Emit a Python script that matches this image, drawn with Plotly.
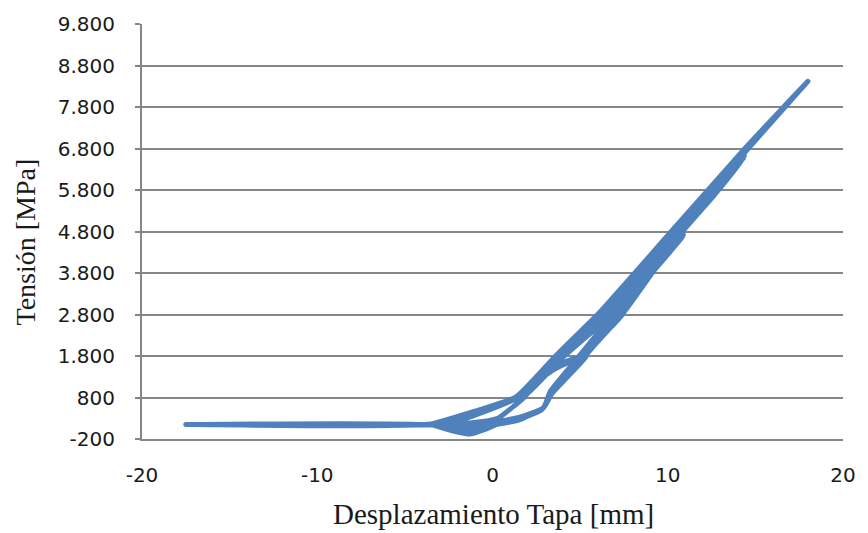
import plotly.graph_objects as go

# Desplazamiento de tapa [mm] y tensión [MPa] del ensayo cíclico, ciclo a ciclo
desplazamiento = [
    0.2,
    # ciclo 1
    -0.5, -1.3, -2.3, -3.4, -3.6,
    -3.5, -1.0, 1.3, 2.4, 3.6, 5.35,
    4.4, 3.4, 2.9, 1.6, 0.4,
    # ciclo 2
    -0.5, -1.2, -2.3, -3.4, -3.6,
    -3.5, -1.2, 0.3, 1.3, 1.8, 3.0, 4.4, 5.35,
    4.4, 3.4, 2.9, 1.4, 0.2,
    # ciclo 3
    -0.5, -1.3, -2.3, -3.4, -5.0,
    -3.5, -1.0, 1.3, 3.5, 5.6, 7.5,
    6.3, 5.2, 3.4, 2.8, 1.4, 0.2,
    # ciclo 4
    -0.5, -1.3, -2.3, -3.4, -5.0,
    -3.5, -1.2, 0.3, 1.3, 1.8, 3.6, 6.3, 7.5,
    6.9, 5.0, 3.4, 2.9, 1.6, 0.4,
    # ciclo 5
    -0.5, -1.2, -2.3, -3.4, -7.0,
    -3.5, -1.5, -0.5, 1.3, 2.0, 3.9, 6.6, 7.5,
    6.3, 5.2, 3.4, 2.9, 1.4, 0.2,
    # ciclo 6
    -0.5, -1.3, -2.3, -3.4, -7.0,
    -3.5, -1.0, 1.3, 3.6, 6.5, 9.6, 10.9,
    9.0, 7.3, 5.2, 3.4, 2.8, 1.4, 0.2,
    # ciclo 7
    -0.5, -1.3, -2.3, -3.4, -7.0,
    -3.5, -1.2, 0.3, 1.3, 1.8, 3.6, 6.2, 10.0, 10.9,
    9.5, 6.9, 4.95, 3.3, 2.9, 1.6, 0.4,
    # ciclo 8
    -0.5, -1.2, -2.3, -3.4, -10.0,
    -3.5, -1.5, -0.5, 1.3, 2.0, 4.1, 6.8, 10.5, 10.9,
    9.0, 7.3, 5.2, 3.4, 2.9, 1.4, 0.2,
    # ciclo 9
    -0.5, -1.3, -2.3, -3.4, -10.0,
    -3.5, -1.0, 1.3, 3.6, 6.1, 10.4, 13.6, 14.4,
    12.6, 10.8, 7.35, 5.22, 3.4, 2.8, 1.4, 0.2,
    # ciclo 10
    -0.5, -1.3, -2.3, -3.4, -10.0,
    -3.5, -1.2, 0.3, 1.3, 1.8, 3.6, 6.0, 10.3, 13.9, 14.4,
    12.5, 10.7, 7.1, 5.0, 3.4, 2.9, 1.6, 0.4,
    # ciclo 11
    -0.5, -1.2, -2.3, -3.4, -14.0,
    -3.5, -1.5, -0.5, 1.3, 2.0, 3.8, 6.3, 10.5, 14.4,
    12.6, 10.8, 7.35, 5.22, 3.4, 2.9, 1.4, 0.2,
    # ciclo 12
    -0.5, -1.3, -2.3, -3.4, -14.0,
    -3.5, -1.0, 1.3, 3.6, 6.0, 10.2, 14.4, 18.0,
    14.6, 10.8, 7.4, 5.25, 3.4, 2.9, 1.4, 0.2,
    # ciclo 13
    -0.5, -1.3, -2.3, -3.4, -17.5,
    -3.5, -1.0, 1.3, 3.6, 6.0, 10.2, 14.4, 18.0,
]
tension = [
    146,
    # ciclo 1
    20, -70, 0, 134, 145,
    155, 470, 800, 1150, 1500, 1800,
    1350, 900, 550, 330, 230,
    # ciclo 2
    170, 100, 60, 140, 150,
    150, 190, 300, 620, 800, 1400, 1700, 1800,
    1350, 900, 550, 240, 146,
    # ciclo 3
    20, -70, 0, 134, 140,
    160, 470, 800, 1600, 2350, 2850,
    2300, 1750, 900, 500, 260, 160,
    # ciclo 4
    90, 10, 40, 140, 150,
    150, 190, 300, 620, 800, 1750, 2650, 2850,
    2550, 1800, 950, 550, 330, 230,
    # ciclo 5
    170, 100, 60, 140, 150,
    150, 300, 450, 760, 900, 1800, 2700, 2850,
    2300, 1750, 900, 550, 240, 146,
    # ciclo 6
    20, -80, 0, 134, 140,
    160, 470, 800, 1750, 2800, 4300, 4720,
    3750, 2800, 1780, 900, 500, 260, 160,
    # ciclo 7
    90, 10, 40, 140, 150,
    150, 190, 300, 620, 800, 1800, 2800, 4550, 4720,
    4000, 2800, 1800, 950, 550, 330, 230,
    # ciclo 8
    170, 100, 60, 140, 150,
    150, 300, 450, 760, 900, 1800, 2800, 4600, 4720,
    3750, 2800, 1780, 900, 550, 240, 146,
    # ciclo 9
    20, -70, 0, 134, 140,
    160, 470, 800, 1800, 2800, 4800, 6300, 6600,
    5650, 4780, 2800, 1790, 900, 500, 260, 160,
    # ciclo 10
    90, 10, 40, 140, 150,
    150, 190, 300, 620, 800, 1800, 2800, 4800, 6450, 6600,
    5600, 4750, 2800, 1800, 950, 550, 330, 230,
    # ciclo 11
    170, 100, 60, 145, 155,
    150, 300, 450, 760, 900, 1800, 2800, 4800, 6600,
    5650, 4780, 2800, 1790, 900, 550, 240, 146,
    # ciclo 12
    20, -70, 0, 134, 140,
    160, 470, 800, 1800, 2800, 4800, 6800, 8420,
    6800, 4800, 2800, 1800, 900, 550, 240, 146,
    # ciclo 13
    20, -80, 0, 134, 150,
    160, 470, 800, 1800, 2800, 4800, 6800, 8420,
]

y_ticks = [-200, 800, 1800, 2800, 3800, 4800, 5800, 6800, 7800, 8800, 9800]
y_tick_text = ["-200", "800", "1.800", "2.800", "3.800", "4.800",
               "5.800", "6.800", "7.800", "8.800", "9.800"]
x_ticks = [-20, -10, 0, 10, 20]
x_tick_text = ["-20", "-10", "0", "10", "20"]

fig = go.Figure()
fig.add_trace(go.Scatter(
    x=desplazamiento, y=tension, mode="lines",
    line=dict(color="#4F81BD", width=5, shape="spline", smoothing=0.5),
    hoverinfo="skip", showlegend=False,
))

grey = "#868686"
serif = "Liberation Serif, Times New Roman, serif"
fig.update_layout(
    width=868, height=533,
    margin=dict(l=142, r=18, t=20, b=94),
    paper_bgcolor="white", plot_bgcolor="white",
    font=dict(family="DejaVu Sans, sans-serif", size=20, color="#1a1a1a"),
    annotations=[
        dict(text="Tensión [MPa]", textangle=-90, xref="paper", yref="paper",
             x=-0.166, y=0.475, xanchor="center", yanchor="middle",
             showarrow=False, font=dict(family=serif, size=28, color="#1a1a1a")),
        dict(text="Desplazamiento Tapa [mm]", xref="paper", yref="paper",
             x=0.501, y=-0.181, xanchor="center", yanchor="middle",
             showarrow=False, font=dict(family=serif, size=29, color="#1a1a1a")),
    ],
)
fig.update_xaxes(
    range=[-20, 20], tickvals=x_ticks, ticktext=x_tick_text,
    showgrid=False, zeroline=False,
    showline=True, linecolor=grey, linewidth=2, ticks="",
    ticklabelstandoff=17,
)
fig.update_yaxes(
    range=[-200, 9800], tickvals=y_ticks, ticktext=y_tick_text,
    showgrid=True, gridcolor=grey, gridwidth=2, zeroline=False,
    showline=True, linecolor=grey, linewidth=2,
    ticks="outside", ticklen=5, tickcolor=grey, tickwidth=2,
    ticklabelstandoff=16,
)

fig.write_html("out.html")
